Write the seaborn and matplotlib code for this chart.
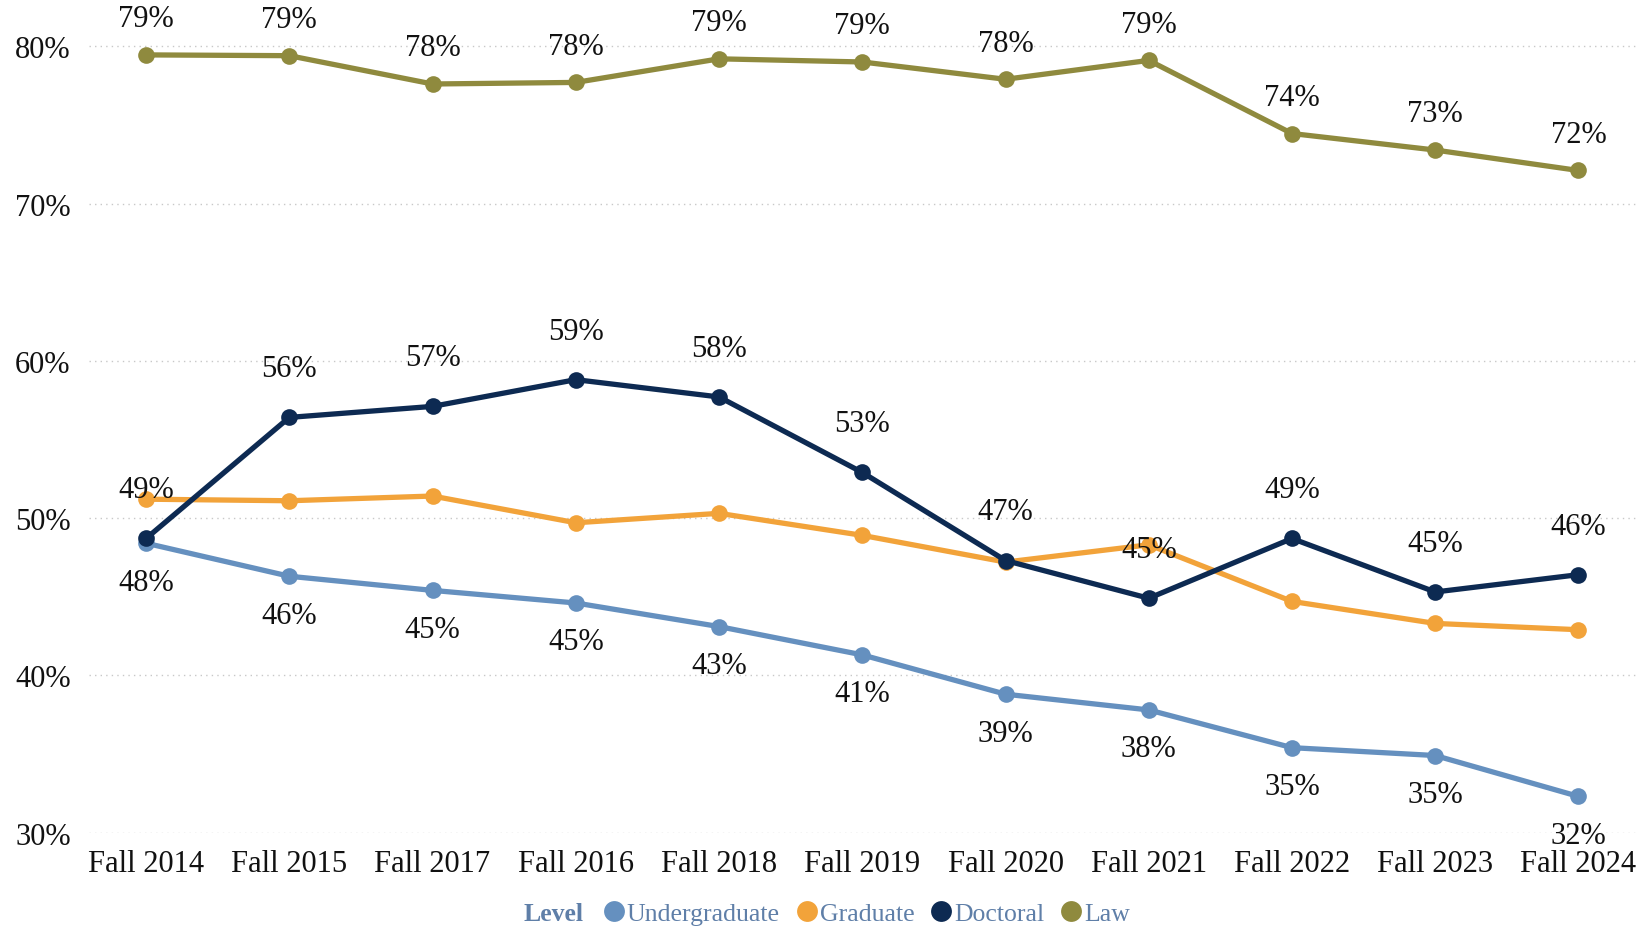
import matplotlib
matplotlib.use("Agg")
import matplotlib.pyplot as plt
import seaborn as sns
import pandas as pd
from matplotlib.lines import Line2D

terms = ["Fall 2014", "Fall 2015", "Fall 2017", "Fall 2016", "Fall 2018", "Fall 2019",
         "Fall 2020", "Fall 2021", "Fall 2022", "Fall 2023", "Fall 2024"]
undergraduate = [48.4, 46.3, 45.4, 44.6, 43.1, 41.3, 38.8, 37.8, 35.4, 34.9, 32.3]
graduate = [51.2, 51.1, 51.4, 49.7, 50.3, 48.9, 47.2, 48.3, 44.7, 43.3, 42.9]
doctoral = [48.7, 56.4, 57.1, 58.8, 57.7, 52.9, 47.3, 44.9, 48.7, 45.3, 46.4]
law = [79.45, 79.4, 77.6, 77.7, 79.2, 79.0, 77.9, 79.1, 74.45, 73.4, 72.1]

levels = ["Undergraduate", "Graduate", "Doctoral", "Law"]
colors = {"Undergraduate": "#6590bf", "Graduate": "#f2a33a",
          "Doctoral": "#0d2a52", "Law": "#8f8a3e"}

series = {"Undergraduate": undergraduate, "Graduate": graduate,
          "Doctoral": doctoral, "Law": law}
rows = []
for lvl in levels:
    for t, v in zip(terms, series[lvl]):
        rows.append({"Term": t, "Level": lvl, "Value": v})
df = pd.DataFrame(rows)

sns.set_theme(style="white")
plt.rcParams["font.family"] = ["Liberation Serif", "DejaVu Serif"]

fig = plt.figure(figsize=(16.44, 9.29), dpi=100)
ax = fig.add_axes([0.054, 0.1027, 0.941, 0.8803])

sns.lineplot(data=df, x="Term", y="Value", hue="Level", hue_order=levels,
             palette=colors, marker="o", markersize=12, markeredgewidth=0,
             linewidth=3.8, sort=False, legend=False, ax=ax)

ax.set_ylim(30, 82)
ax.set_xlim(-0.4, 10.4)
ax.set_yticks([30, 40, 50, 60, 70, 80])
ax.set_yticklabels([f"{v}%" for v in [30, 40, 50, 60, 70, 80]])
ax.yaxis.grid(True, linestyle=(0, (1, 3)), color="#c8c8c8", linewidth=1.0)
ax.xaxis.grid(False)
for s in ax.spines.values():
    s.set_visible(False)
ax.tick_params(axis="both", labelsize=22, length=0, colors="#111111")
ax.tick_params(axis="x", pad=12)
ax.tick_params(axis="y", pad=13)
ax.set_xlabel("")
ax.set_ylabel("")

label_offsets = {"Law": 26, "Doctoral": 35, "Undergraduate": -28}
for lvl, off in label_offsets.items():
    for i, v in enumerate(series[lvl]):
        ax.annotate(f"{round(v):.0f}%", (i, v), xytext=(0, off), textcoords="offset points",
                    ha="center", va="center", fontsize=22, color="#111111")

legend_color = "#5f7fa8"
fig.text(0.3185, 0.016, "Level", fontsize=18.5, fontweight="bold", color=legend_color,
         ha="left", va="center")
handles = [Line2D([], [], marker="o", linestyle="", markersize=15, markeredgewidth=0,
                  color=colors[l]) for l in levels]
leg = fig.legend(handles, levels, loc="center", bbox_to_anchor=(0.5265, 0.016), ncol=4,
                 frameon=False, fontsize=18.5, handletextpad=0.0, columnspacing=0.55,
                 handlelength=1.0, labelcolor=legend_color, borderaxespad=0)

fig.savefig("out.png", dpi=100)
